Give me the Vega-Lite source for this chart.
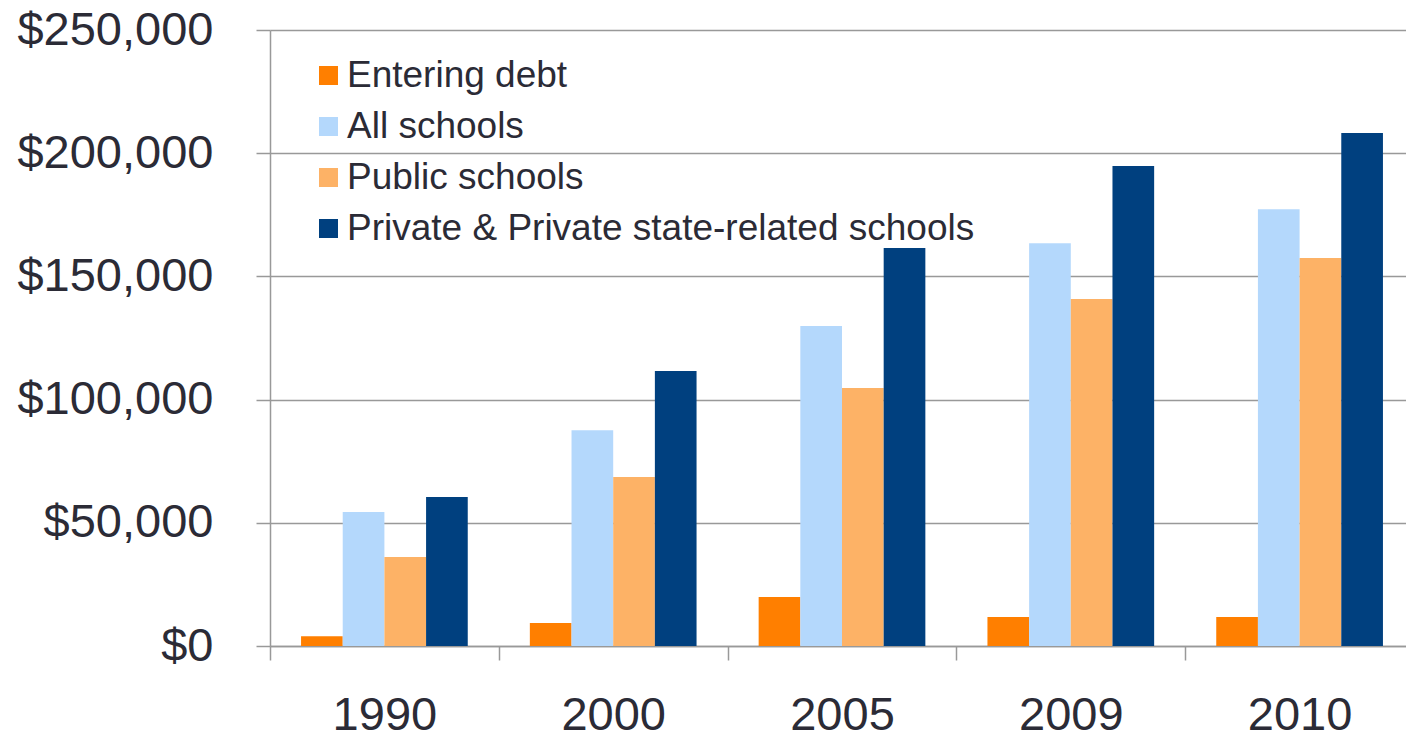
{
  "$schema": "https://vega.github.io/schema/vega-lite/v6.json",
  "autosize": {"type": "none"},
  "padding": {"left": 270, "top": 30, "right": 0, "bottom": 90},
  "width": 1136,
  "height": 616,
  "background": "white",
  "config": {
    "font": "Liberation Sans",
    "view": {"stroke": null}
  },
  "data": {
    "values": [
      {"year": "1990", "series": "Entering debt", "value": 4000},
      {"year": "1990", "series": "All schools", "value": 54400},
      {"year": "1990", "series": "Public schools", "value": 36100},
      {"year": "1990", "series": "Private & Private state-related schools", "value": 60500},
      {"year": "2000", "series": "Entering debt", "value": 9300},
      {"year": "2000", "series": "All schools", "value": 87600},
      {"year": "2000", "series": "Public schools", "value": 68600},
      {"year": "2000", "series": "Private & Private state-related schools", "value": 111600},
      {"year": "2005", "series": "Entering debt", "value": 19900},
      {"year": "2005", "series": "All schools", "value": 129900},
      {"year": "2005", "series": "Public schools", "value": 104700},
      {"year": "2005", "series": "Private & Private state-related schools", "value": 161500},
      {"year": "2009", "series": "Entering debt", "value": 11800},
      {"year": "2009", "series": "All schools", "value": 163500},
      {"year": "2009", "series": "Public schools", "value": 140800},
      {"year": "2009", "series": "Private & Private state-related schools", "value": 194800},
      {"year": "2010", "series": "Entering debt", "value": 11800},
      {"year": "2010", "series": "All schools", "value": 177300},
      {"year": "2010", "series": "Public schools", "value": 157500},
      {"year": "2010", "series": "Private & Private state-related schools", "value": 208200}
    ]
  },
  "mark": {"type": "bar"},
  "encoding": {
    "x": {
      "field": "year",
      "type": "nominal",
      "sort": null,
      "scale": {"paddingInner": 0, "paddingOuter": 0, "range": [0, 1144]},
      "axis": {
        "title": null,
        "labelAngle": 0,
        "labelFontSize": 47,
        "labelColor": "#2b2b36",
        "labelPadding": 32,
        "labelLimit": 400,
        "tickBand": "extent",
        "tickSize": 14,
        "tickColor": "#999999",
        "tickWidth": 1.5,
        "domain": true,
        "domainColor": "#999999",
        "domainWidth": 1.5
      }
    },
    "xOffset": {
      "field": "series",
      "type": "nominal",
      "sort": ["Entering debt", "All schools", "Public schools", "Private & Private state-related schools"],
      "scale": {"paddingInner": 0, "paddingOuter": 0.745}
    },
    "y": {
      "field": "value",
      "type": "quantitative",
      "scale": {"domain": [0, 250000]},
      "axis": {
        "title": null,
        "values": [0, 50000, 100000, 150000, 200000, 250000],
        "format": "$,.0f",
        "labelFontSize": 47,
        "labelColor": "#2b2b36",
        "labelPadding": 43,
        "labelLimit": 400,
        "tickSize": 14,
        "tickColor": "#999999",
        "tickWidth": 1.5,
        "grid": true,
        "gridColor": "#999999",
        "gridWidth": 1.5,
        "domain": true,
        "domainColor": "#999999",
        "domainWidth": 1.5
      }
    },
    "color": {
      "field": "series",
      "type": "nominal",
      "sort": ["Entering debt", "All schools", "Public schools", "Private & Private state-related schools"],
      "scale": {
        "domain": ["Entering debt", "All schools", "Public schools", "Private & Private state-related schools"],
        "range": ["#ff7f00", "#b4d8fc", "#fdb266", "#00407f"]
      },
      "legend": {
        "title": null,
        "orient": "none",
        "legendX": 40,
        "legendY": 27,
        "symbolType": "square",
        "symbolSize": 361,
        "symbolStrokeWidth": 0,
        "labelFontSize": 37,
        "labelColor": "#2b2b36",
        "labelOffset": 0,
        "rowPadding": 13,
        "labelLimit": 1000
      }
    }
  }
}
